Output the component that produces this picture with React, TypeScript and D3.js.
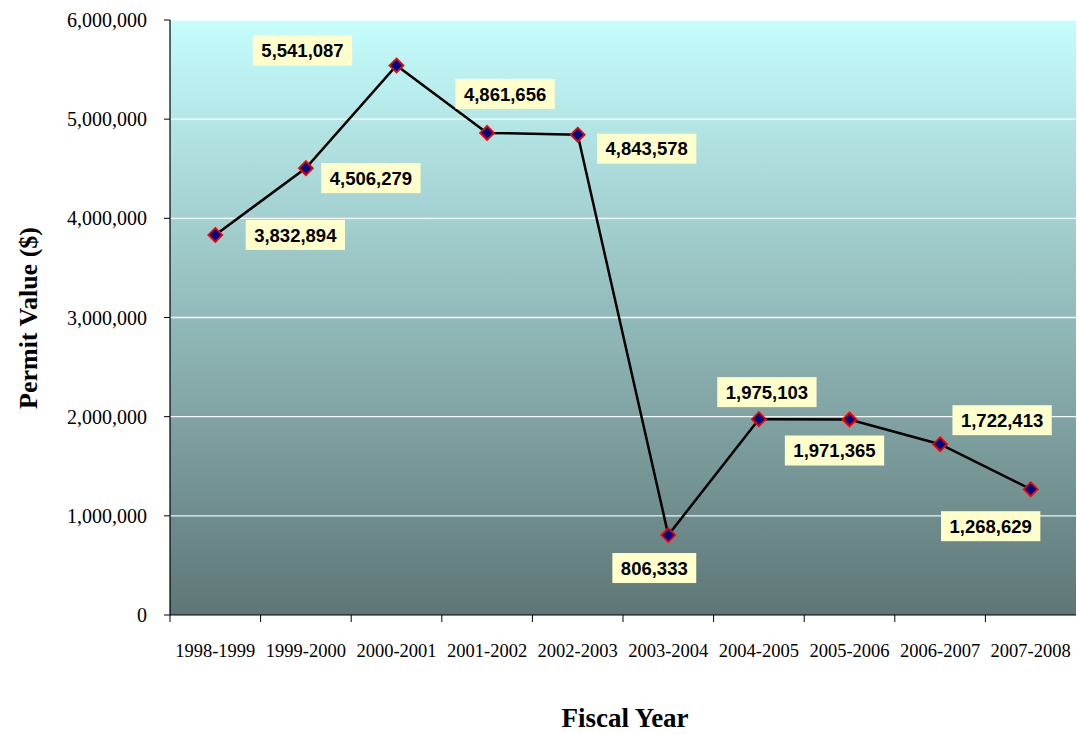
import React from "react";
import * as d3 from "d3";

const categories = [
  "1998-1999", "1999-2000", "2000-2001", "2001-2002", "2002-2003",
  "2003-2004", "2004-2005", "2005-2006", "2006-2007", "2007-2008",
];
const values = [
  3832894, 4506279, 5541087, 4861656, 4843578,
  806333, 1975103, 1971365, 1722413, 1268629,
];
const yTicks = [0, 1000000, 2000000, 3000000, 4000000, 5000000, 6000000];
// label box centre offsets relative to each point (dx, dy)
const labelOffsets: [number, number][] = [
  [80, 0], [65, 10], [-94, -15], [18, -39], [69, 14],
  [-14, 33], [8, -27], [-15, 31], [62, -24], [-40, 37],
];

const W = 1077;
const H = 734;
const M = { left: 170, right: 1076, top: 20, bottom: 615 };

const fmt = d3.format(",");

function textWidth(s: string, size: number) {
  let w = 0;
  for (const c of s) w += c === "," ? 0.278 : 0.556;
  return w * size;
}

export default function App() {
  const x = d3.scaleBand<string>().domain(categories).range([M.left, M.right]);
  const y = d3.scaleLinear().domain([0, 6000000]).range([M.bottom, M.top]);
  const cx = (c: string) => (x(c) as number) + x.bandwidth() / 2;
  const line = d3
    .line<number>()
    .x((_, i) => cx(categories[i]))
    .y((d) => y(d));

  const serif = "'Liberation Serif', 'Times New Roman', serif";
  const sans = "'Liberation Sans', Arial, sans-serif";

  return (
    <div style={{ position: "absolute", left: 0, top: 0 }}>
      <svg width={W} height={H} style={{ display: "block", background: "#fff" }}>
        <defs>
          <linearGradient id="bg" x1="0" y1="0" x2="0" y2="1">
            <stop offset="0" stopColor="#c6fdfd" />
            <stop offset="1" stopColor="#5e7676" />
          </linearGradient>
        </defs>
        <rect
          x={M.left}
          y={M.top}
          width={M.right - M.left}
          height={M.bottom - M.top}
          fill="url(#bg)"
        />
        {yTicks.filter((t) => t > 0).map((t) => (
          <line
            key={"g" + t}
            x1={M.left}
            x2={M.right}
            y1={y(t)}
            y2={y(t)}
            stroke="#ffffff"
            strokeWidth={1.3}
            opacity={0.9}
          />
        ))}
        {/* axes */}
        <line x1={M.left} x2={M.left} y1={M.top} y2={M.bottom} stroke="#000" strokeWidth={1.2} />
        <line x1={M.left} x2={M.right} y1={M.bottom} y2={M.bottom} stroke="#000" strokeWidth={1.2} />
        {yTicks.map((t) => (
          <g key={"y" + t}>
            <line x1={M.left - 6} x2={M.left} y1={y(t)} y2={y(t)} stroke="#000" strokeWidth={1} />
            <text
              x={M.left - 23}
              y={y(t)}
              dy="0.35em"
              textAnchor="end"
              fontFamily={serif}
              fontSize={20}
              fill="#000"
            >
              {fmt(t)}
            </text>
          </g>
        ))}
        {categories.map((c, i) => (
          <line
            key={"xt" + i}
            x1={x(c) as number}
            x2={x(c) as number}
            y1={M.bottom}
            y2={M.bottom + 7}
            stroke="#000"
            strokeWidth={1}
          />
        ))}
        {categories.map((c) => (
          <text
            key={"xl" + c}
            x={cx(c)}
            y={657}
            textAnchor="middle"
            fontFamily={serif}
            fontSize={18.5}
            fill="#000"
          >
            {c}
          </text>
        ))}
        <text
          x={625}
          y={727}
          textAnchor="middle"
          fontFamily={serif}
          fontWeight="bold"
          fontSize={27}
          fill="#000"
        >
          Fiscal Year
        </text>
        <text
          transform={`translate(37,318) rotate(-90)`}
          textAnchor="middle"
          fontFamily={serif}
          fontWeight="bold"
          fontSize={26}
          fill="#000"
        >
          Permit Value ($)
        </text>
        {/* line */}
        <path d={line(values) || ""} fill="none" stroke="#000" strokeWidth={2.5} />
        {values.map((v, i) => {
          const px = cx(categories[i]);
          const py = y(v);
          const r = 7;
          return (
            <path
              key={"m" + i}
              d={`M${px},${py - r}L${px + r},${py}L${px},${py + r}L${px - r},${py}Z`}
              fill="#000080"
              stroke="#ff0000"
              strokeWidth={1.8}
            />
          );
        })}
        {values.map((v, i) => {
          const px = cx(categories[i]) + labelOffsets[i][0];
          const py = y(v) + labelOffsets[i][1];
          const s = fmt(v);
          const fs = 18.5;
          const bw = textWidth(s, fs) + 17;
          const bh = 30;
          return (
            <g key={"l" + i}>
              <rect x={px - bw / 2} y={py - bh / 2} width={bw} height={bh} fill="#ffffcc" />
              <text
                x={px}
                y={py}
                dy="0.36em"
                textAnchor="middle"
                fontFamily={sans}
                fontWeight="bold"
                fontSize={fs}
                fill="#000"
              >
                {s}
              </text>
            </g>
          );
        })}
      </svg>
    </div>
  );
}
